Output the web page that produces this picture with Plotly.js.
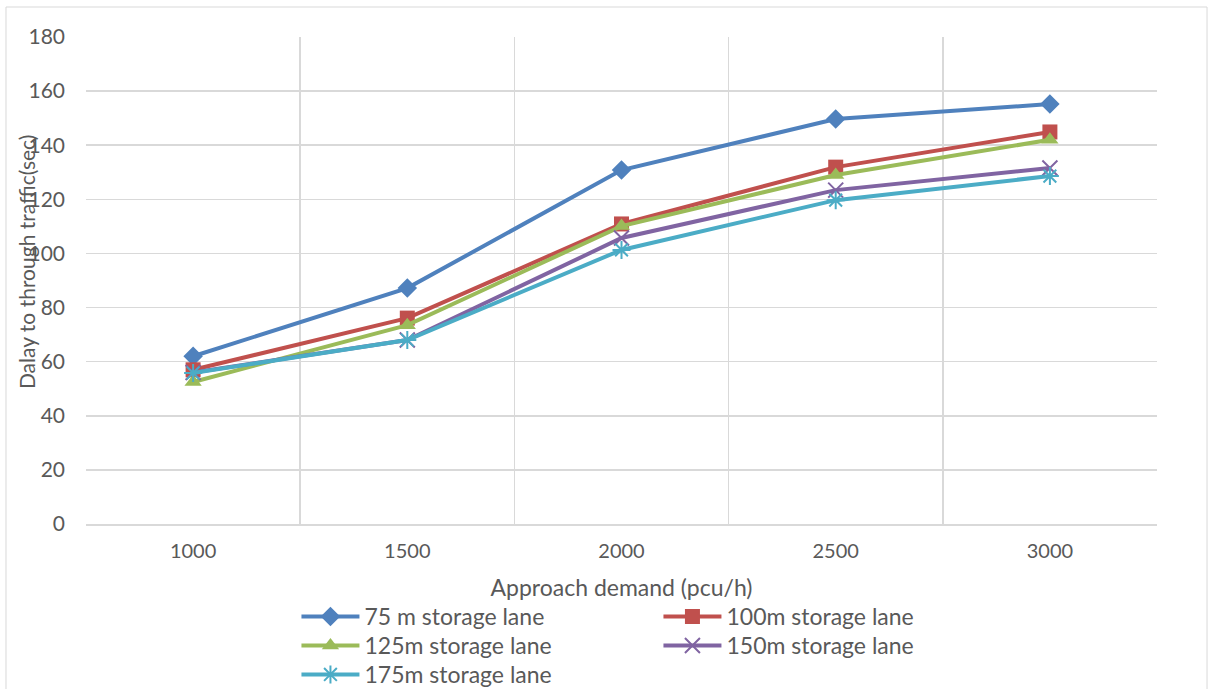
<!DOCTYPE html>
<html>
<head>
<meta charset="utf-8">
<script src="https://cdn.plot.ly/plotly-3.0.1.min.js"></script>
<style>html,body{margin:0;padding:0;background:#fff;}#chart{width:1209px;height:689px;}</style>
</head>
<body>
<div id="chart"></div>
<script>
const demand = ["1000", "1500", "2000", "2500", "3000"];
const lane75 = [62, 87.2, 130.8, 149.7, 155.2];
const lane100 = [57, 76.1, 110.9, 131.9, 144.9];
const lane125 = [52.5, 73.5, 110.1, 129, 142];
const lane150 = [56, 68, 105.7, 123.4, 131.6];
const lane175 = [55.8, 68, 101.3, 119.7, 128.6];
const names = ["75 m storage lane", "100m storage lane", "125m storage lane", "150m storage lane", "175m storage lane"];
const colors = ["#4F81BD", "#C0504D", "#9BBB59", "#8064A2", "#4BACC6"];
const symbols = ["diamond", "square", "triangle-up", "x-thin-open", "asterisk-open"];
const legendRows = ["legend", "legend", "legend2", "legend2", "legend3"];
const series = [lane75, lane100, lane125, lane150, lane175];

const FONT = "Lato, 'Open Sans', sans-serif";
const GRAY = "#595959";

const traces = series.map((vals, i) => ({
  x: demand,
  y: vals,
  name: names[i],
  legend: legendRows[i],
  type: "scatter",
  mode: "lines+markers",
  line: {color: colors[i], width: 4},
  marker: {
    symbol: symbols[i],
    size: 15,
    color: colors[i],
    line: {color: colors[i], width: i >= 3 ? 2 : 0}
  }
}));

function legendCfg(y) {
  return {
    orientation: "h",
    x: 0.1965,
    xanchor: "left",
    y: y,
    yanchor: "top",
    entrywidth: 289,
    entrywidthmode: "pixels",
    font: {size: 23, color: GRAY, family: FONT},
    itemwidth: 58,
    bgcolor: "rgba(0,0,0,0)"
  };
}

const layout = {
  width: 1209,
  height: 689,
  margin: {l: 86, r: 52, t: 37, b: 165, autoexpand: false},
  paper_bgcolor: "#fff",
  plot_bgcolor: "#fff",
  font: {family: FONT, color: GRAY, size: 18},
  showlegend: true,
  xaxis: {
    type: "category",
    range: [-0.5, 4.5],
    tickson: "boundaries",
    showgrid: true,
    gridcolor: "#D9D9D9",
    gridwidth: 1.5,
    showline: true,
    linecolor: "#D9D9D9",
    linewidth: 1.5,
    ticks: "",
    ticklabelstandoff: 8,
    tickfont: {size: 20, color: GRAY, family: FONT},
    title: {text: "Approach demand (pcu/h)", font: {size: 23, color: GRAY, family: FONT}, standoff: 19},
    fixedrange: true
  },
  yaxis: {
    range: [0, 180],
    dtick: 20,
    showgrid: true,
    gridcolor: "#D9D9D9",
    gridwidth: 1.5,
    zeroline: false,
    showline: false,
    ticks: "",
    ticklabelstandoff: 20,
    tickfont: {size: 21, color: GRAY, family: FONT},
    fixedrange: true
  },
  legend: legendCfg(-0.1458),
  legend2: legendCfg(-0.2053),
  legend3: legendCfg(-0.2649),
  annotations: [{
    text: "Dalay to through traffic(sec)",
    xref: "paper", yref: "paper",
    x: -0.055, y: 0.538,
    xanchor: "center", yanchor: "middle",
    textangle: -90,
    showarrow: false,
    font: {size: 21, color: GRAY, family: FONT}
  }],
  shapes: [{
    type: "rect", xref: "paper", yref: "paper",
    x0: -0.0747, x1: 1.0467, y0: -0.34, y1: 1.0616,
    line: {color: "#D9D9D9", width: 1}
  }]
};

Plotly.newPlot("chart", traces, layout, {displayModeBar: false, staticPlot: true});
</script>
</body>
</html>
